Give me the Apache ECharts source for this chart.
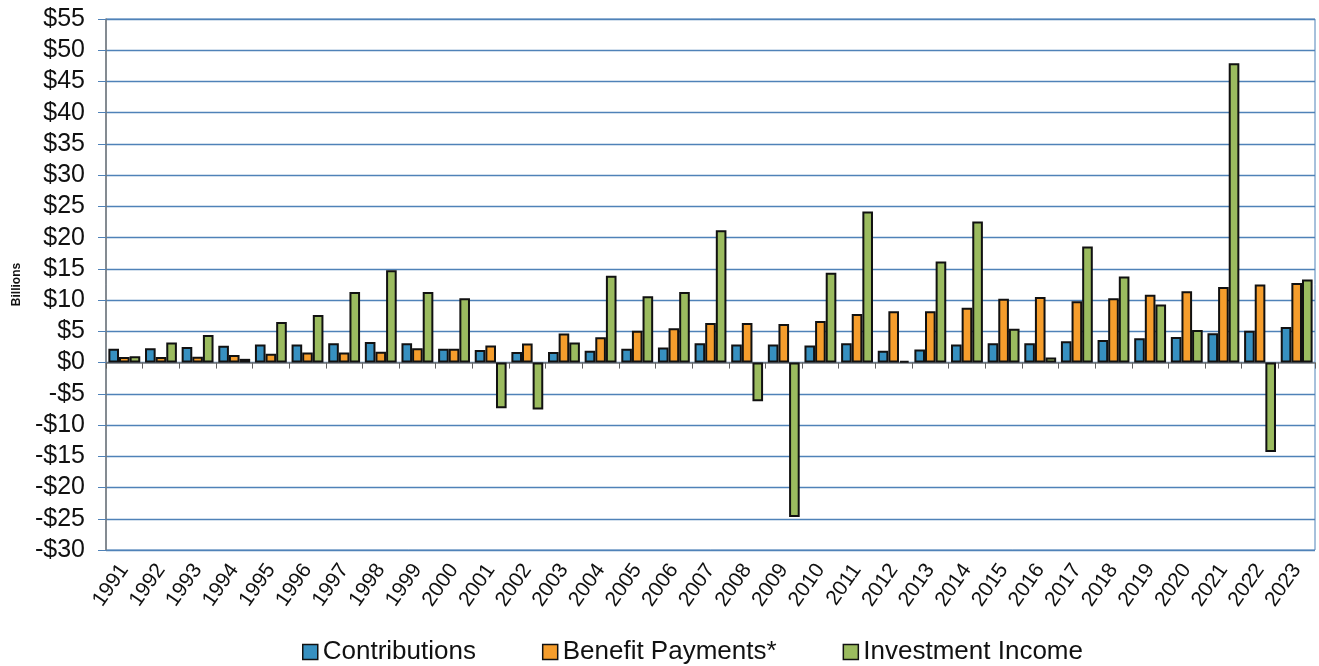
<!DOCTYPE html>
<html>
<head>
<meta charset="utf-8">
<script src="https://cdn.jsdelivr.net/npm/echarts@6/dist/echarts.min.js"></script>
<style>
  html, body { margin: 0; padding: 0; background: #fff; }
  #chart { width: 1319px; height: 666px; }
</style>
</head>
<body>
<div id="chart"></div>
<script>
  // data, billions of dollars
  const years = ['1991', '1992', '1993', '1994', '1995', '1996', '1997', '1998', '1999', '2000',
    '2001', '2002', '2003', '2004', '2005', '2006', '2007', '2008', '2009', '2010',
    '2011', '2012', '2013', '2014', '2015', '2016', '2017', '2018', '2019', '2020',
    '2021', '2022', '2023'];
  const contributions = [2.2, 2.3, 2.5, 2.7, 2.9, 2.9, 3.1, 3.3, 3.1, 2.2,
    2.0, 1.7, 1.7, 1.9, 2.2, 2.4, 3.1, 2.9, 2.9, 2.75,
    3.1, 1.9, 2.1, 2.9, 3.1, 3.1, 3.4, 3.6, 3.9, 4.1,
    4.7, 5.1, 5.7];
  const benefitPayments = [0.9, 0.9, 0.95, 1.2, 1.4, 1.6, 1.6, 1.75, 2.3, 2.2,
    2.75, 3.07, 4.66, 4.07, 5.08, 5.5, 6.35, 6.35, 6.19, 6.67,
    7.78, 8.2, 8.2, 8.78, 10.2, 10.5, 9.8, 10.3, 10.85, 11.4,
    12.1, 12.5, 12.75];
  const investmentIncome = [1.0, 3.2, 4.4, 0.6, 6.5, 7.6, 11.3, 14.8, 11.3, 10.3,
    -7.3, -7.5, 3.2, 13.9, 10.6, 11.3, 21.2, -6.2, -24.7, 14.4,
    24.2, 0.3, 16.2, 22.6, 5.4, 0.8, 18.6, 13.8, 9.3, 5.2,
    47.9, -14.3, 13.3];
  const seriesNames = ['Contributions', 'Benefit Payments*', 'Investment Income'];
  const colors = ['#3790c0', '#f59d2c', '#9bbb5f'];

  const myChart = echarts.init(document.getElementById('chart'));
  const font = 'Liberation Sans, Arial, sans-serif';
  const gridBlue = '#4f82b8';

  function bar(name, data, color) {
    return {
      name: name,
      type: 'bar',
      data: data,
      barGap: '0%',
      barCategoryGap: '13%',
      itemStyle: {
        color: color,
        borderColor: '#111',
        borderWidth: 2
      }
    };
  }

  const option = {
    animation: false,
    color: colors,
    grid: {
      left: 106, right: 4, top: 19, bottom: 116,
      outerBoundsMode: 'none',
      containLabel: false,
      show: true,
      borderColor: gridBlue,
      borderWidth: 1
    },
    legend: {
      top: 634,
      left: 297,
      itemWidth: 15,
      itemHeight: 15,
      itemGap: 66,
      icon: 'rect',
      textStyle: { fontFamily: font, fontSize: 26, color: '#111' },
      data: seriesNames.map(function (n) {
        return { name: n, itemStyle: { borderColor: '#111', borderWidth: 1.5 } };
      })
    },
    xAxis: [{
      type: 'category',
      data: years,
      position: 'bottom',
      axisLine: { show: false, onZero: false },
      axisTick: { show: false },
      axisLabel: {
        interval: 0,
        rotate: 55,
        fontFamily: font,
        fontSize: 21,
        color: '#111',
        margin: 16
      },
      splitLine: { show: false }
    }, {
      type: 'category',
      data: years,
      position: 'bottom',
      axisLine: { show: true, onZero: true, lineStyle: { color: '#7a7a7a', width: 1.5 } },
      axisTick: { show: true, length: 6, lineStyle: { color: '#606060' } },
      axisLabel: { show: false },
      splitLine: { show: false }
    }],
    yAxis: {
      type: 'value',
      min: -30,
      max: 55,
      interval: 5,
      name: 'Billions',
      nameLocation: 'middle',
      nameGap: 83,
      nameRotate: 90,
      nameTextStyle: { fontFamily: font, fontSize: 12, fontWeight: 'bold', color: '#111' },
      axisLine: { show: true, lineStyle: { color: '#7a7a7a', width: 1.5 } },
      axisTick: { show: true, length: 8, lineStyle: { color: gridBlue } },
      axisLabel: {
        fontFamily: font,
        fontSize: 25,
        color: '#111',
        margin: 21,
        formatter: function (v) {
          return v < 0 ? '-$' + Math.abs(v) : '$' + v;
        }
      },
      splitLine: { show: true, lineStyle: { color: gridBlue, width: 1.3 } }
    },
    series: [
      bar(seriesNames[0], contributions, colors[0]),
      bar(seriesNames[1], benefitPayments, colors[1]),
      bar(seriesNames[2], investmentIncome, colors[2])
    ]
  };
  myChart.setOption(option);
</script>
</body>
</html>
